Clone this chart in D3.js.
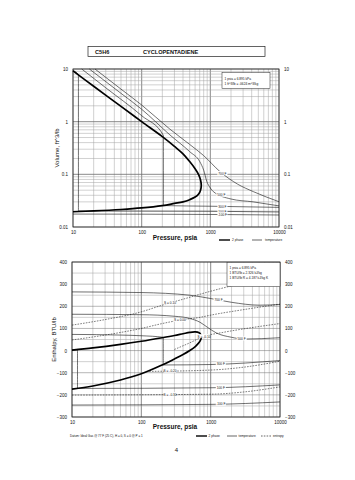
<!DOCTYPE html>
<html><head><meta charset="utf-8">
<script src="https://cdn.jsdelivr.net/npm/d3@7"></script>
<style>
body{margin:0;background:#fff}
svg text{font-family:"Liberation Sans",Arial,sans-serif;fill:#111}
</style></head>
<body><svg id="c" width="355" height="480"></svg>
<script>
// ---------- DATA ----------
const pressureTicks = [10, 100, 1000, 10000];
const volumeTicks = [0.01, 0.1, 1, 10];
const volumeTickLabels = ["0.01", "0.1", "1", "10"];
const enthalpyTicks = [-300, -200, -100, 0, 100, 200, 300, 400];

// Volume chart: saturation dome (2 phase)
const domeVolP = [10, 20, 50, 100, 200, 300, 400, 500, 600, 680, 720, 738, 720, 680, 600, 500, 400, 300, 200, 100, 50, 20, 10];
const domeVolV = [9.2, 4.7, 1.95, 1.0, 0.52, 0.34, 0.245, 0.175, 0.128, 0.097, 0.078, 0.062, 0.05, 0.043, 0.037, 0.033, 0.03, 0.028, 0.0255, 0.023, 0.0215, 0.0202, 0.0195];
// Volume chart isotherms
const isoVolNames = ["700 F", "500 F", "300 F", "100 F", "-100 F"];
const isoVolP = [
  [20.9, 50, 100, 258, 500, 790, 1388, 2500, 4217, 10000],
  [17.3, 50, 100, 258, 500, 702, 800, 889, 1000, 1105, 2000, 4200, 10000],
  [13.4, 30, 100, 207, 207, 1000, 10000],
  [10, 12, 12, 1000, 10000],
  [10, 1000, 10000]
];
const isoVolV = [
  [10, 4.15, 2.07, 0.72, 0.37, 0.23, 0.112, 0.065, 0.047, 0.0302],
  [10, 3.45, 1.72, 0.56, 0.27, 0.174, 0.12, 0.073, 0.055, 0.047, 0.034, 0.030, 0.0252],
  [10, 4.4, 1.3, 0.55, 0.0255, 0.0248, 0.0236],
  [9.3, 7.8, 0.0202, 0.0199, 0.0193],
  [0.0176, 0.0173, 0.0169]
];
const isoVolLabelP = [1500, 1450, 1500, 1500, 1500];

// Enthalpy chart: saturation dome
const domeHP = [10, 20, 50, 100, 200, 300, 400, 500, 600, 680, 720, 738, 720, 680, 600, 500, 400, 300, 200, 100, 50, 20, 10];
const domeHH = [2, 12, 28, 42, 58, 68, 76, 82, 84, 80, 72, 62, 50, 36, 18, 0, -18, -38, -65, -105, -133, -160, -174];
// Enthalpy chart isotherms
const isoHNames = ["700 F", "500 F", "300 F", "100 F", "-100 F"];
const isoHP = [
  [10, 100, 500, 1000, 2000, 5000, 10000],
  [10, 100, 300, 500, 700, 900, 1200, 2000, 3000, 10000],
  [10, 50, 100, 207, 207, 1000, 10000],
  [10, 12, 12, 1000, 10000],
  [10, 1000, 10000]
];
const isoHH = [
  [265, 262, 250, 235, 218, 205, 208],
  [164, 162, 155, 145, 128, 105, 80, 60, 52, 58],
  [73, 70, 67, 60, -65, -63, -45],
  [2, 3, -171, -168, -155],
  [-246, -243, -232]
];
const isoHLabelP = [1300, 2800, 1400, 1400, 1400];
// Enthalpy chart entropy lines
const entNames = ["S = 0.10", "S = 0.00", "S = -0.10", "S = -0.20", "S = -0.30"];
const entP = [
  [10, 30, 100, 200, 400, 1000, 3000, 10000],
  [10, 30, 100, 200, 400, 700, 1000, 3000, 10000],
  [300, 500, 780, 1500, 3000, 10000],
  [130, 1000, 3000, 10000],
  [10, 1000, 3000, 10000]
];
const entH = [
  [115, 140, 175, 205, 232, 268, 305, 335],
  [48, 70, 100, 122, 140, 150, 160, 185, 210],
  [5, 35, 63, 82, 98, 122],
  [-94, -88, -75, -48],
  [-201, -197, -187, -164]
];
const entLabelP = [260, 360, 800, 260, 260];

// ---------- DRAW ----------
const svg = d3.select("#c");
const font = '"Liberation Sans",Arial,sans-serif';
const gridMinor = "#a3a3a3", gridMajor = "#6e6e6e";

// Title box
svg.append("rect").attr("x", 88).attr("y", 46.5).attr("width", 177).attr("height", 10)
  .attr("fill", "none").attr("stroke", "#222").attr("stroke-width", 0.7);
svg.append("text").attr("x", 95).attr("y", 54).attr("font-size", 5.6).attr("font-weight", "bold").text("C5H6");
svg.append("text").attr("x", 143).attr("y", 54).attr("font-size", 5.6).attr("font-weight", "bold").text("CYCLOPENTADIENE");

function logGrid(g, x, y, w, h, xs) {
  const minors = [];
  for (let d = 10; d < 10000; d *= 10) for (let m = 1; m <= 10; m++) minors.push(d * m);
  g.selectAll(".vg").data(minors).join("line")
    .attr("x1", d => xs(d)).attr("x2", d => xs(d)).attr("y1", y).attr("y2", y + h)
    .attr("stroke", d => pressureTicks.includes(d) ? gridMajor : gridMinor).attr("stroke-width", 0.5);
}

const line = (xs, ys) => d3.line().x(d => xs(d[0])).y(d => ys(d[1]));

// ===== Chart 1: Volume =====
{
  const L = 73, T = 69, W = 206, H = 158;
  const xs = d3.scaleLog().domain([10, 10000]).range([L, L + W]);
  const ys = d3.scaleLog().domain([0.01, 10]).range([T + H, T]);
  const g = svg.append("g");
  logGrid(g, L, T, W, H, xs);
  const hy = [];
  for (let d = 0.01; d < 10; d *= 10) for (let m = 1; m <= 10; m++) hy.push(+(d * m).toPrecision(3));
  g.selectAll(".hg").data(hy).join("line")
    .attr("x1", L).attr("x2", L + W).attr("y1", d => ys(d)).attr("y2", d => ys(d))
    .attr("stroke", d => volumeTicks.includes(d) ? gridMajor : gridMinor).attr("stroke-width", 0.5);
  g.append("rect").attr("x", L).attr("y", T).attr("width", W).attr("height", H)
    .attr("fill", "none").attr("stroke", "#222").attr("stroke-width", 0.8);

  // axes
  const ax = d3.axisBottom(xs).tickValues(pressureTicks).tickFormat(d3.format("d")).tickSize(0).tickPadding(4);
  g.append("g").attr("transform", `translate(0,${T + H})`).call(ax)
    .call(s => s.select(".domain").remove()).selectAll("text").attr("font-size", 4.5).attr("font-family", font);
  const ayl = d3.axisLeft(ys).tickValues(volumeTicks).tickFormat((d, i) => volumeTickLabels[i]).tickSize(0).tickPadding(5);
  g.append("g").attr("transform", `translate(${L},0)`).call(ayl)
    .call(s => s.select(".domain").remove()).selectAll("text").attr("font-size", 4.5).attr("font-family", font);
  const ayr = d3.axisRight(ys).tickValues(volumeTicks).tickFormat((d, i) => volumeTickLabels[i]).tickSize(0).tickPadding(5);
  g.append("g").attr("transform", `translate(${L + W},0)`).call(ayr)
    .call(s => s.select(".domain").remove()).selectAll("text").attr("font-size", 4.5).attr("font-family", font);

  // isotherms
  isoVolP.forEach((ps, i) => {
    const pts = ps.map((p, j) => [p, isoVolV[i][j]]);
    g.append("path").attr("d", line(xs, ys).curve(d3.curveMonotoneX)(pts))
      .attr("fill", "none").attr("stroke", "#111").attr("stroke-width", 0.6);
  });
  // dome
  const dpts = domeVolP.map((p, j) => [p, domeVolV[j]]);
  g.append("path").attr("d", line(xs, ys).curve(d3.curveCatmullRom)(dpts))
    .attr("fill", "none").attr("stroke", "#000").attr("stroke-width", 1.7);
  // labels
  isoVolNames.forEach((n, i) => {
    const ps = isoVolP[i], vs = isoVolV[i];
    const lp = isoVolLabelP[i];
    let k = ps.findIndex(p => p >= lp); if (k < 1) k = 1;
    const t = (Math.log(lp) - Math.log(ps[k - 1])) / (Math.log(ps[k]) - Math.log(ps[k - 1]));
    const lv = Math.exp(Math.log(vs[k - 1]) + t * (Math.log(vs[k]) - Math.log(vs[k - 1])));
    g.append("rect").attr("x", xs(lp) - 5).attr("y", ys(lv) - 2.3).attr("width", 10).attr("height", 4).attr("fill", "#fff");
    g.append("text").attr("x", xs(lp)).attr("y", ys(lv) + 1.2).attr("text-anchor", "middle").attr("font-size", 3.2).text(n);
  });
  // units box
  g.append("rect").attr("x", 222).attr("y", 72.5).attr("width", 48).attr("height", 16).attr("fill", "#fff").attr("stroke", "#222").attr("stroke-width", 0.5);
  g.append("text").attr("x", 224.5).attr("y", 79.5).attr("font-size", 3.2).text("1 psia = 6.895 kPa");
  g.append("text").attr("x", 224.5).attr("y", 84.5).attr("font-size", 3.2).text("1 ft^3/lb = .0624 m^3/kg");

  svg.append("text").attr("transform", `translate(59,${T + H / 2}) rotate(-90)`).attr("text-anchor", "middle")
    .attr("font-size", 6).text("Volume, ft^3/lb");
  svg.append("text").attr("x", 175).attr("y", 240).attr("text-anchor", "middle").attr("font-size", 6.5).attr("font-weight", "bold").text("Pressure,  psia");
  // legend
  svg.append("line").attr("x1", 219).attr("x2", 230).attr("y1", 240).attr("y2", 240).attr("stroke", "#000").attr("stroke-width", 1.4);
  svg.append("text").attr("x", 232).attr("y", 241).attr("font-size", 3.2).text("2 phase");
  svg.append("line").attr("x1", 252).attr("x2", 262).attr("y1", 240).attr("y2", 240).attr("stroke", "#000").attr("stroke-width", 0.6);
  svg.append("text").attr("x", 265).attr("y", 241).attr("font-size", 3.2).text("temperature");
}

// ===== Chart 2: Enthalpy =====
{
  const L = 72, T = 262, W = 208, H = 155;
  const xs = d3.scaleLog().domain([10, 10000]).range([L, L + W]);
  const ys = d3.scaleLinear().domain([-300, 400]).range([T + H, T]);
  const g = svg.append("g");
  logGrid(g, L, T, W, H, xs);
  const hy = d3.range(-300, 401, 50);
  g.selectAll(".hg").data(hy).join("line")
    .attr("x1", L).attr("x2", L + W).attr("y1", d => ys(d)).attr("y2", d => ys(d))
    .attr("stroke", d => d % 100 === 0 ? gridMajor : gridMinor).attr("stroke-width", 0.5);
  g.append("rect").attr("x", L).attr("y", T).attr("width", W).attr("height", H)
    .attr("fill", "none").attr("stroke", "#222").attr("stroke-width", 0.8);

  const ax = d3.axisBottom(xs).tickValues(pressureTicks).tickFormat(d3.format("d")).tickSize(0).tickPadding(4);
  g.append("g").attr("transform", `translate(0,${T + H})`).call(ax)
    .call(s => s.select(".domain").remove()).selectAll("text").attr("font-size", 4.5).attr("font-family", font);
  const ayl = d3.axisLeft(ys).tickValues(enthalpyTicks).tickSize(0).tickPadding(5);
  g.append("g").attr("transform", `translate(${L},0)`).call(ayl)
    .call(s => s.select(".domain").remove()).selectAll("text").attr("font-size", 4.5).attr("font-family", font);
  const ayr = d3.axisRight(ys).tickValues(enthalpyTicks).tickSize(0).tickPadding(5);
  g.append("g").attr("transform", `translate(${L + W},0)`).call(ayr)
    .call(s => s.select(".domain").remove()).selectAll("text").attr("font-size", 4.5).attr("font-family", font);

  // entropy
  entP.forEach((ps, i) => {
    const pts = ps.map((p, j) => [p, entH[i][j]]);
    g.append("path").attr("d", line(xs, ys).curve(d3.curveMonotoneX)(pts))
      .attr("fill", "none").attr("stroke", "#111").attr("stroke-width", 0.55).attr("stroke-dasharray", "1.6,1.2");
  });
  // isotherms
  isoHP.forEach((ps, i) => {
    const pts = ps.map((p, j) => [p, isoHH[i][j]]);
    g.append("path").attr("d", line(xs, ys).curve(d3.curveMonotoneX)(pts))
      .attr("fill", "none").attr("stroke", "#111").attr("stroke-width", 0.6);
  });
  const dpts = domeHP.map((p, j) => [p, domeHH[j]]);
  g.append("path").attr("d", line(xs, ys).curve(d3.curveCatmullRom)(dpts))
    .attr("fill", "none").attr("stroke", "#000").attr("stroke-width", 1.7);

  const interp = (ps, hs, lp) => {
    let k = ps.findIndex(p => p >= lp); if (k < 1) k = 1;
    const t = (Math.log(lp) - Math.log(ps[k - 1])) / (Math.log(ps[k]) - Math.log(ps[k - 1]));
    return hs[k - 1] + t * (hs[k] - hs[k - 1]);
  };
  isoHNames.forEach((n, i) => {
    const lp = isoHLabelP[i], lh = interp(isoHP[i], isoHH[i], lp);
    g.append("rect").attr("x", xs(lp) - 5).attr("y", ys(lh) - 2.3).attr("width", 10).attr("height", 4).attr("fill", "#fff");
    g.append("text").attr("x", xs(lp)).attr("y", ys(lh) + 1.2).attr("text-anchor", "middle").attr("font-size", 3.2).text(n);
  });
  entNames.forEach((n, i) => {
    const lp = entLabelP[i], lh = interp(entP[i], entH[i], lp);
    g.append("rect").attr("x", xs(lp) - 6).attr("y", ys(lh) - 2.3).attr("width", 12).attr("height", 4).attr("fill", "#fff");
    g.append("text").attr("x", xs(lp)).attr("y", ys(lh) + 1.2).attr("text-anchor", "middle").attr("font-size", 3.2).text(n);
  });

  g.append("rect").attr("x", 227).attr("y", 262.5).attr("width", 53).attr("height", 24).attr("fill", "#fff").attr("stroke", "#222").attr("stroke-width", 0.5);
  g.append("text").attr("x", 229.5).attr("y", 269).attr("font-size", 3.2).text("1 psia = 6.895 kPa");
  g.append("text").attr("x", 229.5).attr("y", 274).attr("font-size", 3.2).text("1 BTU/lb = 2.326 kJ/kg");
  g.append("text").attr("x", 229.5).attr("y", 279).attr("font-size", 3.2).text("1 BTU/lb R = 4.187 kJ/kg K");

  svg.append("text").attr("transform", `translate(56,${T + H / 2}) rotate(-90)`).attr("text-anchor", "middle")
    .attr("font-size", 6).text("Enthalpy, BTU/lb");
  svg.append("text").attr("x", 175).attr("y", 429).attr("text-anchor", "middle").attr("font-size", 6.5).attr("font-weight", "bold").text("Pressure,  psia");
  svg.append("text").attr("x", 70).attr("y", 437).attr("font-size", 3).text("Datum: Ideal Gas @ 77 F (25 C), H = 0, S = 0 @ P = 1");
  svg.append("line").attr("x1", 196).attr("x2", 207).attr("y1", 436).attr("y2", 436).attr("stroke", "#000").attr("stroke-width", 1.4);
  svg.append("text").attr("x", 208.5).attr("y", 437).attr("font-size", 3.2).text("2 phase");
  svg.append("line").attr("x1", 227).attr("x2", 237).attr("y1", 436).attr("y2", 436).attr("stroke", "#000").attr("stroke-width", 0.6);
  svg.append("text").attr("x", 238.5).attr("y", 437).attr("font-size", 3.2).text("temperature");
  svg.append("line").attr("x1", 261).attr("x2", 271).attr("y1", 436).attr("y2", 436).attr("stroke", "#000").attr("stroke-width", 0.6).attr("stroke-dasharray", "1.6,1.2");
  svg.append("text").attr("x", 273).attr("y", 437).attr("font-size", 3.2).text("entropy");
  svg.append("text").attr("x", 176.5).attr("y", 452).attr("text-anchor", "middle").attr("font-size", 6).text("4");
}
</script></body></html>
